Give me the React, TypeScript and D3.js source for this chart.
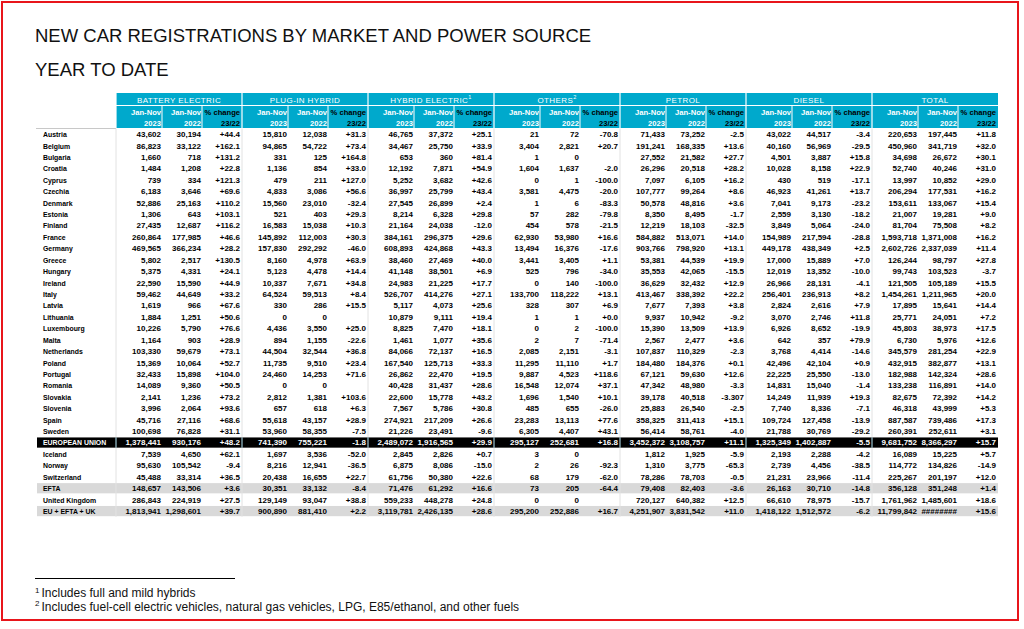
import React, { useEffect } from 'react';
import * as d3 from 'd3';

// Markets, in table order
const markets = [
  'Austria', 'Belgium', 'Bulgaria', 'Croatia', 'Cyprus', 'Czechia', 'Denmark', 'Estonia', 'Finland',
  'France', 'Germany', 'Greece', 'Hungary', 'Ireland', 'Italy', 'Latvia', 'Lithuania', 'Luxembourg',
  'Malta', 'Netherlands', 'Poland', 'Portugal', 'Romania', 'Slovakia', 'Slovenia', 'Spain', 'Sweden',
  'EUROPEAN UNION', 'Iceland', 'Norway', 'Switzerland', 'EFTA', 'United Kingdom', 'EU + EFTA + UK',
];

const groups = ['BATTERY ELECTRIC', 'PLUG-IN HYBRID', 'HYBRID ELECTRIC', 'OTHERS', 'PETROL', 'DIESEL', 'TOTAL'];
const groupNotes = ['', '', '1', '2', '', '', ''];
const subHeads = [['Jan-Nov', '2023'], ['Jan-Nov', '2022'], ['% change', '23/22']];

const bev2023 = [43602, 86823, 1660, 1484, 739, 6183, 52886, 1306, 27435, 260864, 469565, 5802, 5375, 22590, 59462, 1619, 1884, 10226, 1164, 103330, 15369, 32433, 14089, 2141, 3996, 45716, 100698, 1378441, 7539, 95630, 45488, 148657, 286843, 1813941];
const bev2022 = [30194, 33122, 718, 1208, 334, 3646, 25163, 643, 12687, 177985, 366234, 2517, 4331, 15590, 44649, 966, 1251, 5790, 903, 59679, 10064, 15898, 9360, 1236, 2064, 27116, 76828, 930176, 4650, 105542, 33314, 143506, 224919, 1298601];
const bevChange = ['+44.4', '+162.1', '+131.2', '+22.8', '+121.3', '+69.6', '+110.2', '+103.1', '+116.2', '+46.6', '+28.2', '+130.5', '+24.1', '+44.9', '+33.2', '+67.6', '+50.6', '+76.6', '+28.9', '+73.1', '+52.7', '+104.0', '+50.5', '+73.2', '+93.6', '+68.6', '+31.1', '+48.2', '+62.1', '-9.4', '+36.5', '+3.6', '+27.5', '+39.7'];

const phev2023 = [15810, 94865, 331, 1136, 479, 4833, 15560, 521, 16583, 145892, 157830, 8160, 5123, 10337, 64524, 330, 0, 4436, 894, 44504, 11735, 24460, 0, 2812, 657, 55618, 53960, 741390, 1697, 8216, 20438, 30351, 129149, 900890];
const phev2022 = [12038, 54722, 125, 854, 211, 3086, 23010, 403, 15038, 112003, 292292, 4978, 4478, 7671, 59513, 286, 0, 3550, 1155, 32544, 9510, 14253, 0, 1381, 618, 43157, 58355, 755221, 3536, 12941, 16655, 33132, 93047, 881410];
const phevChange = ['+31.3', '+73.4', '+164.8', '+33.0', '+127.0', '+56.6', '-32.4', '+29.3', '+10.3', '+30.3', '-46.0', '+63.9', '+14.4', '+34.8', '+8.4', '+15.5', '', '+25.0', '-22.6', '+36.8', '+23.4', '+71.6', '', '+103.6', '+6.3', '+28.9', '-7.5', '-1.8', '-52.0', '-36.5', '+22.7', '-8.4', '+38.8', '+2.2'];

const hev2023 = [46765, 34467, 653, 12192, 5252, 36997, 27545, 8214, 21164, 384161, 608893, 38460, 41148, 24983, 526707, 5117, 10879, 8825, 1461, 84066, 167540, 26862, 40428, 22600, 7567, 274921, 21226, 2489072, 2845, 6875, 61756, 71476, 559233, 3119781];
const hev2022 = [37372, 25750, 360, 7871, 3682, 25799, 26899, 6328, 24038, 296375, 424868, 27469, 38501, 21225, 414276, 4073, 9111, 7470, 1077, 72137, 125713, 22470, 31437, 15778, 5786, 217209, 23491, 1916565, 2826, 8086, 50380, 61292, 448278, 2426135];
const hevChange = ['+25.1', '+33.9', '+81.4', '+54.9', '+42.6', '+43.4', '+2.4', '+29.8', '-12.0', '+29.6', '+43.3', '+40.0', '+6.9', '+17.7', '+27.1', '+25.6', '+19.4', '+18.1', '+35.6', '+16.5', '+33.3', '+19.5', '+28.6', '+43.2', '+30.8', '+26.6', '-9.6', '+29.9', '+0.7', '-15.0', '+22.6', '+16.6', '+24.8', '+28.6'];

const oth2023 = [21, 3404, 1, 1604, 0, 3581, 1, 57, 454, 62930, 13494, 3441, 525, 0, 133700, 328, 1, 0, 2, 2085, 11295, 9887, 16548, 1696, 485, 23283, 6305, 295127, 3, 2, 68, 73, 0, 295200];
const oth2022 = [72, 2821, 0, 1637, 1, 4475, 6, 282, 578, 53980, 16376, 3405, 796, 140, 118222, 307, 1, 2, 7, 2151, 11110, 4523, 12074, 1540, 655, 13113, 4407, 252681, 0, 26, 179, 205, 0, 252886];
const othChange = ['-70.8', '+20.7', '', '-2.0', '-100.0', '-20.0', '-83.3', '-79.8', '-21.5', '+16.6', '-17.6', '+1.1', '-34.0', '-100.0', '+13.1', '+6.9', '+0.0', '-100.0', '-71.4', '-3.1', '+1.7', '+118.6', '+37.1', '+10.1', '-26.0', '+77.6', '+43.1', '+16.8', '', '-92.3', '-62.0', '-64.4', '', '+16.7'];

const pet2023 = [71433, 191241, 27552, 26296, 7097, 107777, 50578, 8350, 12219, 584882, 903766, 53381, 35553, 36629, 413467, 7677, 9937, 15390, 2567, 107837, 184480, 67121, 47342, 39178, 25883, 358325, 56414, 3452372, 1812, 1310, 78286, 79408, 720127, 4251907];
const pet2022 = [73252, 168335, 21582, 20518, 6105, 99264, 48816, 8495, 18103, 513071, 798920, 44539, 42065, 32432, 338392, 7393, 10942, 13509, 2477, 110329, 184376, 59630, 48980, 40518, 26540, 311413, 58761, 3108757, 1925, 3775, 78703, 82403, 640382, 3831542];
const petChange = ['-2.5', '+13.6', '+27.7', '+28.2', '+16.2', '+8.6', '+3.6', '-1.7', '-32.5', '+14.0', '+13.1', '+19.9', '-15.5', '+12.9', '+22.2', '+3.8', '-9.2', '+13.9', '+3.6', '-2.3', '+0.1', '+12.6', '-3.3', '-3.307', '-2.5', '+15.1', '-4.0', '+11.1', '-5.9', '-65.3', '-0.5', '-3.6', '+12.5', '+11.0'];

const dsl2023 = [43022, 40160, 4501, 10028, 430, 46923, 7041, 2559, 3849, 154989, 449178, 17000, 12019, 26966, 256401, 2824, 3070, 6926, 642, 3768, 42496, 22225, 14831, 14249, 7740, 109724, 21788, 1325349, 2193, 2739, 21231, 26163, 66610, 1418122];
const dsl2022 = [44517, 56969, 3887, 8158, 519, 41261, 9173, 3130, 5064, 217594, 438349, 15889, 13352, 28131, 236913, 2616, 2746, 8652, 357, 4414, 42104, 25550, 15040, 11939, 8336, 127458, 30769, 1402887, 2288, 4456, 23966, 30710, 78975, 1512572];
const dslChange = ['-3.4', '-29.5', '+15.8', '+22.9', '-17.1', '+13.7', '-23.2', '-18.2', '-24.0', '-28.8', '+2.5', '+7.0', '-10.0', '-4.1', '+8.2', '+7.9', '+11.8', '-19.9', '+79.9', '-14.6', '+0.9', '-13.0', '-1.4', '+19.3', '-7.1', '-13.9', '-29.2', '-5.5', '-4.2', '-38.5', '-11.4', '-14.8', '-15.7', '-6.2'];

const tot2023 = [220653, 450960, 34698, 52740, 13997, 206294, 153611, 21007, 81704, 1593718, 2602726, 126244, 99743, 121505, 1454261, 17895, 25771, 45803, 6730, 345579, 432915, 182988, 133238, 82675, 46318, 887587, 260391, 9681752, 16089, 114772, 225267, 356128, 1761962, 11799842];
// last cell shows "########" in the source sheet
const tot2022 = [197445, 341719, 26672, 40246, 10852, 177531, 133067, 19281, 75508, 1371008, 2337039, 98797, 103523, 105189, 1211965, 15641, 24051, 38973, 5976, 281254, 382877, 142324, 116891, 72392, 43999, 739486, 252611, 8366297, 15225, 134826, 201197, 351248, 1485601, null];
const totChange = ['+11.8', '+32.0', '+30.1', '+31.0', '+29.0', '+16.2', '+15.4', '+9.0', '+8.2', '+16.2', '+11.4', '+27.8', '-3.7', '+15.5', '+20.0', '+14.4', '+7.2', '+17.5', '+12.6', '+22.9', '+13.1', '+28.6', '+14.0', '+14.2', '+5.3', '+17.3', '+3.1', '+15.7', '+5.7', '-14.9', '+12.0', '+1.4', '+18.6', '+15.6'];

const footnotes = [
  ['1', 'Includes full and mild hybrids'],
  ['2', 'Includes fuel-cell electric vehicles, natural gas vehicles, LPG, E85/ethanol, and other fuels'],
];

const CYAN = '#00a9cc';
const FONT = '"Liberation Sans", Arial, sans-serif';

const App = () => {
  useEffect(() => {
    document.body.style.margin = '0';
  }, []);

  const fmt = d3.format(',d');
  const columns = [
    [bev2023, bev2022, bevChange],
    [phev2023, phev2022, phevChange],
    [hev2023, hev2022, hevChange],
    [oth2023, oth2022, othChange],
    [pet2023, pet2022, petChange],
    [dsl2023, dsl2022, dslChange],
    [tot2023, tot2022, totChange],
  ];

  const left = 36;
  const x = d3.scaleBand().domain(groups).range([116, 998]);
  const sub = d3.scaleOrdinal<number, number>().domain([0, 1, 2]).range([45, 85, 124]);
  const subEdge = [46, 86];
  const y = d3.scaleBand().domain(markets).range([128.5, 128.5 + markets.length * 11.42]);
  const bw = y.bandwidth();
  const yTop = y(markets[0])!;
  const yBottom = y(markets[markets.length - 1])! + bw;
  const seps = [116, ...groups.slice(1).map((g) => x(g)!)];

  const rowStyle = (m: string) => {
    if (m === 'EUROPEAN UNION') return { bg: '#000', fg: '#fff' };
    if (m === 'EFTA' || m === 'EU + EFTA + UK') return { bg: '#d9d9d9', fg: '#000' };
    return { bg: null, fg: '#000' };
  };

  return (
    <svg width={1024} height={629} style={{ display: 'block', fontFamily: FONT }}>
      <rect x={0} y={0} width={1024} height={629} fill="#fff" />
      <rect x={2} y={2} width={1016} height={618} fill="none" stroke="#e8151b" strokeWidth={2} />

      <text x={35} y={42} fontSize={18.5} fill="#111">NEW CAR REGISTRATIONS BY MARKET AND POWER SOURCE</text>
      <text x={35} y={76} fontSize={18.5} fill="#111">YEAR TO DATE</text>

      {/* header */}
      {groups.map((g, gi) => {
        const gx = x(g)!;
        const w = x.bandwidth();
        return (
          <g key={g}>
            <rect x={gx} y={93} width={w} height={12} fill={CYAN} />
            <text x={gx + w / 2} y={102.5} textAnchor="middle" fontSize={8} fill="#fff" letterSpacing={0.4}>
              {g}
              {groupNotes[gi] && <tspan fontSize={5.5} dy={-3.5}>{groupNotes[gi]}</tspan>}
            </text>
            <rect x={gx} y={106} width={w} height={22} fill={CYAN} />
            {subEdge.map((e) => (
              <line key={e} x1={gx + e} x2={gx + e} y1={106} y2={128} stroke="#fff" strokeWidth={1} />
            ))}
            <line x1={gx} x2={gx} y1={93} y2={128} stroke="#fff" strokeWidth={1.2} />
            {subHeads.map((s, si) => (
              <text key={si} x={gx + sub(si)} textAnchor="end" fontSize={7.6} fontWeight="bold"
                fill={si === 2 ? '#000' : '#fff'}>
                <tspan y={115}>{s[0]}</tspan>
                <tspan x={gx + sub(si)} y={125.5}>{s[1]}</tspan>
              </text>
            ))}
          </g>
        );
      })}
      <line x1={left} x2={116} y1={128.5} y2={128.5} stroke="#c8c8c8" strokeWidth={1.2} />

      {/* row backgrounds */}
      {markets.map((m) => {
        const st = rowStyle(m);
        return st.bg ? (
          <rect key={m} x={left + 1} y={y(m)! + 0.6} width={998 - left - 1} height={bw - 1.2} fill={st.bg} />
        ) : null;
      })}

      {/* column separators */}
      {seps.map((sx) => (
        <line key={sx} x1={sx} x2={sx} y1={yTop} y2={yBottom} stroke="#e2e2e2" strokeWidth={1} />
      ))}
      {seps.map((sx) => (
        <line key={'eu' + sx} x1={sx} x2={sx} y1={y('EUROPEAN UNION')! + 0.6}
          y2={y('EUROPEAN UNION')! + bw - 0.6} stroke="#4a7d8c" strokeWidth={1} />
      ))}

      {/* rows */}
      {markets.map((m, i) => {
        const st = rowStyle(m);
        const cy = y(m)! + bw / 2 + 2.9;
        return (
          <g key={m} fill={st.fg} fontSize={8} fontWeight="bold">
            <text x={43} y={cy} fontSize={6.9}>{m}</text>
            {columns.map((cols, gi) =>
              cols.map((arr, si) => {
                const v = arr[i] as number | string | null;
                const label = si === 2 ? (v as string) : v === null ? '########' : fmt(v as number);
                return (
                  <text key={gi + '-' + si} x={x(groups[gi])! + sub(si)} y={cy} textAnchor="end">
                    {label}
                  </text>
                );
              })
            )}
          </g>
        );
      })}

      {/* footnotes */}
      <line x1={35} x2={235} y1={578.5} y2={578.5} stroke="#000" strokeWidth={1} />
      {footnotes.map((f, i) => (
        <text key={f[0]} x={35} y={597 + i * 13.5} fontSize={12} fill="#111">
          <tspan fontSize={8} dy={-4.5}>{f[0]}</tspan>
          <tspan dy={4.5} dx={2}>{f[1]}</tspan>
        </text>
      ))}
    </svg>
  );
};

export default App;
